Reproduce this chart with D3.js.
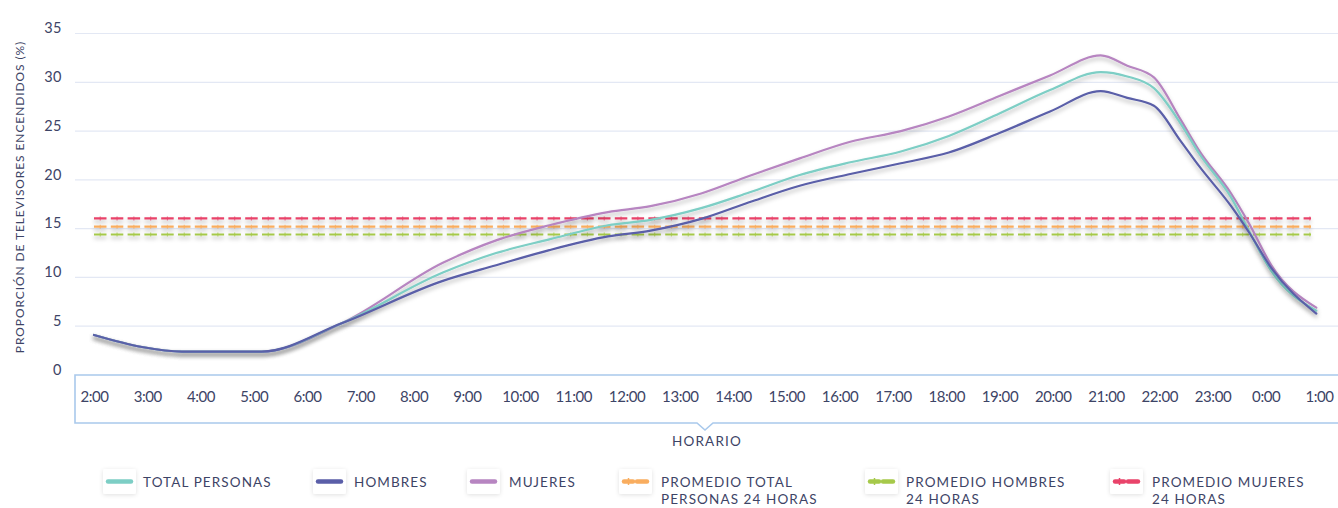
<!DOCTYPE html>
<html>
<head>
<meta charset="utf-8">
<script src="https://cdn.jsdelivr.net/npm/d3@7"></script>
<style>
  html, body { margin: 0; padding: 0; background: #fff; }
  svg { display: block; }
  text { font-family: Lato, "Open Sans", sans-serif; fill: #3d4466; }
</style>
</head>
<body>
<svg id="chart" width="1338" height="508"></svg>
<script>
// ---------- DATA ----------
const tickLabels = ["2:00","3:00","4:00","5:00","6:00","7:00","8:00","9:00","10:00","11:00","12:00","13:00",
  "14:00","15:00","16:00","17:00","18:00","19:00","20:00","21:00","22:00","23:00","0:00","1:00"];
// sample positions in hours (2 = 2:00 ... 25 = 1:00 next day)
const hours = [2.0, 2.9, 3.65, 5.15, 6.65, 8.55, 9.55, 10.55, 11.65, 12.45, 13.4, 14.3, 15.25,
  16.2, 17.15, 18.05, 19.0, 19.95, 20.9, 21.4, 21.9, 22.4, 22.75, 23.35, 23.7, 24.1, 24.95];
const totalPersonas = [4.1, 2.87, 2.4, 2.4, 5.3, 10.5, 12.5, 13.9, 15.35, 15.9, 17.1, 18.7, 20.5,
  21.8, 22.9, 24.5, 26.8, 29.2, 31.05, 30.6, 29.4, 25.8, 22.7, 18.2, 14.6, 10.7, 6.6];
const hombres = [4.1, 2.87, 2.4, 2.4, 5.3, 9.65, 11.25, 12.8, 14.2, 14.8, 16.0, 17.7, 19.4,
  20.6, 21.7, 22.8, 24.8, 27.0, 29.1, 28.4, 27.6, 24.0, 21.4, 17.3, 14.5, 11.0, 6.3];
const mujeres = [4.1, 2.87, 2.4, 2.4, 5.3, 11.5, 13.8, 15.35, 16.7, 17.3, 18.6, 20.4, 22.2,
  23.9, 25.0, 26.5, 28.6, 30.7, 32.75, 31.7, 30.5, 26.2, 23.0, 18.6, 15.4, 11.3, 6.9];
const promedioTotal = 15.2;
const promedioHombres = 14.4;
const promedioMujeres = 16.05;
const promedioSpan = [2.0, 24.85];
const yTicks = [0, 5, 10, 15, 20, 25, 30, 35];

const seriesNames = ["TOTAL PERSONAS", "HOMBRES", "MUJERES"];
const avgNames = [["PROMEDIO TOTAL", "PERSONAS 24 HORAS"], ["PROMEDIO HOMBRES", "24 HORAS"], ["PROMEDIO MUJERES", "24 HORAS"]];

// ---------- STYLE ----------
const C = { total: "#7dcec5", hombres: "#5a5ea8", mujeres: "#b785c1",
  avgTotal: "#f9ad5f", avgHombres: "#a6c94a", avgMujeres: "#e9436a",
  grid: "#e3e8f4", text: "#3d4466", axisBox: "#a9c9ec" };

const svg = d3.select("#chart");
const defs = svg.append("defs");
const f = defs.append("filter").attr("id", "sh").attr("filterUnits", "userSpaceOnUse")
  .attr("x", 0).attr("y", 0).attr("width", 1338).attr("height", 508);
f.append("feDropShadow").attr("dx", 0).attr("dy", 3).attr("stdDeviation", 2)
  .attr("flood-color", "#000").attr("flood-opacity", 0.28);
const f2 = defs.append("filter").attr("id", "boxsh").attr("filterUnits", "userSpaceOnUse")
  .attr("x", 0).attr("y", 0).attr("width", 1338).attr("height", 508);
f2.append("feDropShadow").attr("dx", 0).attr("dy", 1).attr("stdDeviation", 2)
  .attr("flood-color", "#000").attr("flood-opacity", 0.12);

const x = d3.scaleLinear().domain([2, 25]).range([94, 1319]);
const y = d3.scaleLinear().domain([0, 35]).range([375, 33.5]);
const plotLeft = 75, plotRight = 1338;

// gridlines
svg.append("g").selectAll("line").data(yTicks.filter(d => d > 0)).join("line")
  .attr("x1", plotLeft).attr("x2", plotRight)
  .attr("y1", d => y(d)).attr("y2", d => y(d))
  .attr("stroke", C.grid).attr("stroke-width", 1.2);

// y axis via d3.axisLeft, styled
const yAxis = svg.append("g").attr("transform", `translate(${plotLeft},0)`)
  .call(d3.axisLeft(y).tickValues(yTicks).tickSize(0).tickPadding(13));
yAxis.select(".domain").remove();
yAxis.selectAll("text").attr("font-size", 14.5).attr("fill", C.text)
  .attr("font-family", "Lato, sans-serif").attr("dy", "-0.05em").style("letter-spacing", "0.5px");

// y title
svg.append("text")
  .attr("transform", `translate(24,197) rotate(-90)`)
  .attr("text-anchor", "middle").attr("font-size", 12).style("letter-spacing", "0.9px")
  .attr("fill", C.text)
  .text("PROPORCIÓN DE TELEVISORES ENCENDIDOS (%)");

// x axis box
const boxTop = 375, boxBot = 423, notchX = 705;
svg.append("path")
  .attr("d", `M${plotRight + 2},${boxTop} L${plotLeft},${boxTop} L${plotLeft},${boxBot} L${notchX - 8},${boxBot} L${notchX},${boxBot + 7} L${notchX + 8},${boxBot} L${plotRight + 2},${boxBot}`)
  .attr("fill", "none").attr("stroke", C.axisBox).attr("stroke-width", 1.6);

const xAxis = svg.append("g").attr("transform", `translate(0,${boxTop})`)
  .call(d3.axisBottom(x).tickValues(d3.range(2, 26)).tickFormat((d, i) => tickLabels[i]).tickSize(0).tickPadding(16));
xAxis.select(".domain").remove();
xAxis.selectAll("text").attr("font-size", 15).attr("fill", C.text)
  .attr("font-family", "Lato, sans-serif").style("letter-spacing", "-0.4px");

svg.append("text").attr("x", notchX + 2).attr("y", 446).attr("text-anchor", "middle")
  .attr("font-size", 13.5).style("letter-spacing", "1.2px").attr("fill", C.text).text("HORARIO");

// average dashed lines
const avgs = [
  { v: promedioMujeres, c: C.avgMujeres },
  { v: promedioTotal, c: C.avgTotal },
  { v: promedioHombres, c: C.avgHombres }
];
const gAvg = svg.append("g");
avgs.forEach(a => {
  gAvg.append("line").attr("x1", x(promedioSpan[0])).attr("x2", x(promedioSpan[1]))
    .attr("y1", y(a.v)).attr("y2", y(a.v))
    .attr("stroke", a.c).attr("stroke-width", 2.2).attr("stroke-dasharray", "12.5,4.3")
    .attr("filter", "url(#sh)");
  gAvg.append("line").attr("x1", x(promedioSpan[0])).attr("x2", x(promedioSpan[1]))
    .attr("y1", y(a.v)).attr("y2", y(a.v))
    .attr("stroke", a.c).attr("stroke-width", 4).attr("stroke-dasharray", "1.2,15.6")
    .attr("stroke-dashoffset", -5.65).attr("opacity", 0.7);
});

// series lines
const line = d3.line().x((d, i) => x(hours[i])).y(d => y(d)).curve(d3.curveMonotoneX);
const series = [
  { vals: mujeres, c: C.mujeres },
  { vals: totalPersonas, c: C.total },
  { vals: hombres, c: C.hombres }
];
svg.append("g").selectAll("path").data(series).join("path")
  .attr("d", d => line(d.vals))
  .attr("fill", "none").attr("stroke", d => d.c).attr("stroke-width", 2.2)
  .attr("stroke-linejoin", "round").attr("stroke-linecap", "round")
  .attr("filter", "url(#sh)");

// legend
const legendItems = [
  { lines: [seriesNames[0]], c: C.total, dash: false, bx: 103, tx: 143 },
  { lines: [seriesNames[1]], c: C.hombres, dash: false, bx: 313, tx: 354 },
  { lines: [seriesNames[2]], c: C.mujeres, dash: false, bx: 467, tx: 509 },
  { lines: avgNames[0], c: C.avgTotal, dash: true, bx: 619, tx: 661 },
  { lines: avgNames[1], c: C.avgHombres, dash: true, bx: 865, tx: 906 },
  { lines: avgNames[2], c: C.avgMujeres, dash: true, bx: 1110, tx: 1152 }
];
const lg = svg.append("g");
legendItems.forEach(it => {
  const g = lg.append("g");
  g.append("rect").attr("x", it.bx).attr("y", 469).attr("width", 33).attr("height", 25).attr("rx", 2)
    .attr("fill", "#fff").attr("filter", "url(#boxsh)");
  const cy = 481.5;
  if (!it.dash) {
    g.append("line").attr("x1", it.bx + 5).attr("x2", it.bx + 28).attr("y1", cy).attr("y2", cy)
      .attr("stroke", it.c).attr("stroke-width", 4.5).attr("stroke-linecap", "round");
  } else {
    g.append("line").attr("x1", it.bx + 5).attr("x2", it.bx + 14).attr("y1", cy).attr("y2", cy)
      .attr("stroke", it.c).attr("stroke-width", 4.5).attr("stroke-linecap", "round");
    g.append("line").attr("x1", it.bx + 18).attr("x2", it.bx + 28).attr("y1", cy).attr("y2", cy)
      .attr("stroke", it.c).attr("stroke-width", 4.5).attr("stroke-linecap", "round");
    g.append("line").attr("x1", it.bx + 9.5).attr("x2", it.bx + 9.5).attr("y1", cy - 3.5).attr("y2", cy + 3.5)
      .attr("stroke", it.c).attr("stroke-width", 1.5);
  }
  it.lines.forEach((t, i) => {
    g.append("text").attr("x", it.tx).attr("y", 487 + i * 16.5)
      .attr("font-size", 13.5).style("letter-spacing", "1.1px").attr("fill", C.text).text(t);
  });
});
</script>
</body>
</html>
